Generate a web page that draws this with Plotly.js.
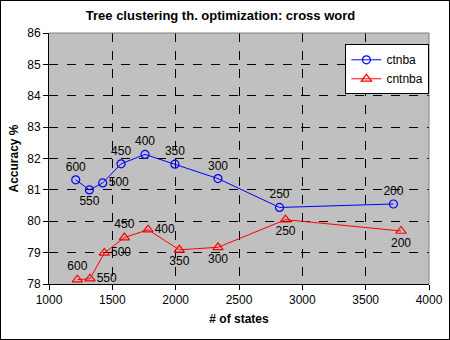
<!DOCTYPE html>
<html>
<head>
<meta charset="utf-8">
<script src="https://cdn.plot.ly/plotly-3.0.1.min.js"></script>
<style>
  body { margin: 0; background: #fff; }
  #wrap { position: relative; width: 450px; height: 340px; }
  #frame { position: absolute; left: 0; top: 0; width: 448px; height: 338px;
           border: 1px solid #000; pointer-events: none; }
</style>
</head>
<body>
<div id="wrap">
  <div id="plot" style="width:450px;height:340px;"></div>
  <div id="frame"></div>
</div>
<script>
// ctnba series
var ctnbaStates = [1211, 1319, 1424, 1569, 1758, 1994, 2334, 2820, 3719];
var ctnbaAcc = [81.32, 81.0, 81.22, 81.83, 82.13, 81.82, 81.36, 80.44, 80.55];
var ctnbaLabels = ["600", "550", "500", "450", "400", "350", "300", "250", "200"];

// cntnba series
var cntnbaStates = [1224, 1324, 1437, 1595, 1782, 2029, 2334, 2867, 3779];
var cntnbaAcc = [78.14, 78.17, 78.99, 79.48, 79.73, 79.09, 79.17, 80.05, 79.69];
var cntnbaLabels = ["600", "550", "500", "450", "400", "350", "300", "250", "200"];

var font = "Liberation Sans, Arial, sans-serif";

var trace1 = {
  x: ctnbaStates,
  y: ctnbaAcc,
  text: ctnbaLabels,
  name: "ctnba",
  type: "scatter",
  mode: "lines+markers+text",
  line: { color: "#0000ff", width: 1 },
  marker: { symbol: "circle-open", size: 8, color: "#0000ff", line: { width: 1.2 } },
  textposition: ["top center", "bottom center", "middle right", "top center", "top center",
                 "top center", "top center", "top center", "top center"],
  textfont: { family: font, size: 12, color: "#000" },
  cliponaxis: false
};

var trace2 = {
  x: cntnbaStates,
  y: cntnbaAcc,
  text: cntnbaLabels,
  name: "cntnba",
  type: "scatter",
  mode: "lines+markers+text",
  line: { color: "#ff0000", width: 1 },
  marker: { symbol: "triangle-up-open", size: 9, color: "#ff0000", line: { width: 1.2 } },
  textposition: ["top center", "middle right", "middle right", "top center", "middle right",
                 "bottom center", "bottom center", "bottom center", "bottom center"],
  textfont: { family: font, size: 12, color: "#000" },
  cliponaxis: false
};

var layout = {
  width: 450,
  height: 340,
  margin: { l: 49, r: 21, t: 33, b: 56 },
  paper_bgcolor: "#ffffff",
  plot_bgcolor: "#c0c0c0",
  font: { family: font, size: 12, color: "#000" },
  title: {
    text: "<b>Tree clustering th. optimization: cross word</b>",
    font: { family: font, size: 13, color: "#000" },
    x: 0.49, xanchor: "center", y: 0.955, yanchor: "middle"
  },
  xaxis: {
    title: { text: "<b># of states</b>", font: { family: font, size: 12 }, standoff: 8 },
    range: [1000, 4000],
    dtick: 500,
    showgrid: true,
    gridcolor: "#000",
    griddash: "dash",
    gridwidth: 1,
    zeroline: false,
    showline: true,
    linecolor: "#000",
    linewidth: 1,
    ticks: "outside",
    ticklen: 5,
    tickcolor: "#000",
    mirror: false
  },
  yaxis: {
    title: { text: "<b>Accuracy %</b>", font: { family: font, size: 12 }, standoff: 6 },
    range: [78, 86],
    dtick: 1,
    showgrid: true,
    gridcolor: "#000",
    griddash: "dash",
    gridwidth: 1,
    zeroline: false,
    showline: true,
    linecolor: "#000",
    linewidth: 1,
    ticks: "outside",
    ticklen: 5,
    tickcolor: "#000"
  },
  shapes: [
    { type: "line", xref: "paper", yref: "paper", x0: 0, x1: 1, y0: 1, y1: 1,
      line: { color: "#808080", width: 1 } },
    { type: "line", xref: "paper", yref: "paper", x0: 1, x1: 1, y0: 0, y1: 1,
      line: { color: "#808080", width: 1 } }
  ],
  showlegend: true,
  legend: {
    x: 0.78, xanchor: "left",
    y: 0.955, yanchor: "top",
    bgcolor: "#ffffff",
    bordercolor: "#000",
    borderwidth: 1,
    font: { family: font, size: 12 },
    itemwidth: 30,
    tracegroupgap: 0
  }
};

Plotly.newPlot("plot", [trace1, trace2], layout, { displayModeBar: false, staticPlot: true });
</script>
</body>
</html>
